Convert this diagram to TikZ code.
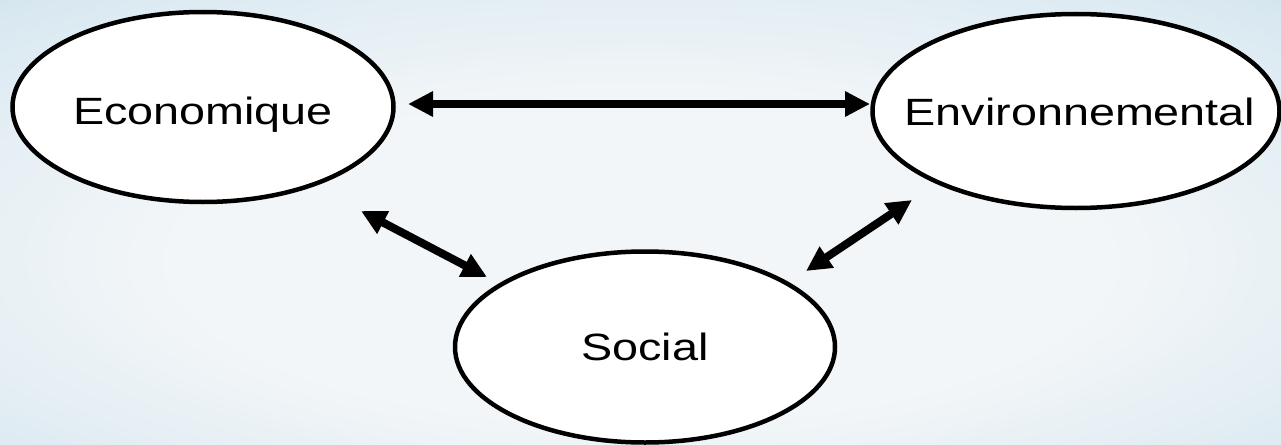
\documentclass[tikz,border=0pt]{standalone}
\usepackage{fontspec}
\usepackage{graphicx}
\setmainfont{Liberation Sans}
\usetikzlibrary{shapes.geometric,arrows.meta,calc}
\definecolor{bgblue}{RGB}{190,215,230}
\definecolor{bgmid}{RGB}{220,234,242}
\definecolor{bgwhite}{RGB}{243,246,248}
\pgfdeclareradialshading{bgshade}{\pgfpoint{0bp}{-6bp}}{%
  color(0bp)=(bgwhite); color(18bp)=(bgwhite); color(34bp)=(bgmid); color(50bp)=(bgblue); color(70bp)=(bgblue)}
% text set in a box of no size, stretched like the reference lettering
\newcommand{\widetext}[3]{\raisebox{#2}[0pt][0pt]{\makebox[0pt]{\hspace*{#1}\scalebox{1.23}[1]{#3}}}}
\tikzset{
  bubble/.style={ellipse, draw=black, line width=4.5pt, fill=white, inner sep=0pt,
    font=\fontsize{38}{46}\selectfont},
  link/.style={line width=8pt, {Triangle[length=25pt,width=24pt]}-{Triangle[length=25pt,width=24pt]}}
}
\begin{document}
\begin{tikzpicture}[x=1pt,y=-1pt]
\useasboundingbox (0,0) rectangle (1281,444);
\shade[shading=bgshade] (0,0) rectangle (1281,444);

\node[bubble, minimum width=381pt, minimum height=190pt] (eco) at (203,107) {\widetext{0pt}{-17pt}{Economique}};
\node[bubble, minimum width=407pt, minimum height=194pt] (env) at (1076,111) {\widetext{8pt}{-14pt}{Environnemental}};
\node[bubble, minimum width=380pt, minimum height=191pt] (soc) at (645,347) {\widetext{0pt}{-13pt}{Social}};

\draw[link] ($(eco.center)+(205,-3)$) -- ($(env.center)+(-206,-7)$);
\draw[link] ($(eco.center)+(158,104)$) -- ($(soc.center)+(-158,-70)$);
\draw[link] ($(soc.center)+(161,-76)$) -- ($(env.center)+(-164,89)$);
\end{tikzpicture}
\end{document}
